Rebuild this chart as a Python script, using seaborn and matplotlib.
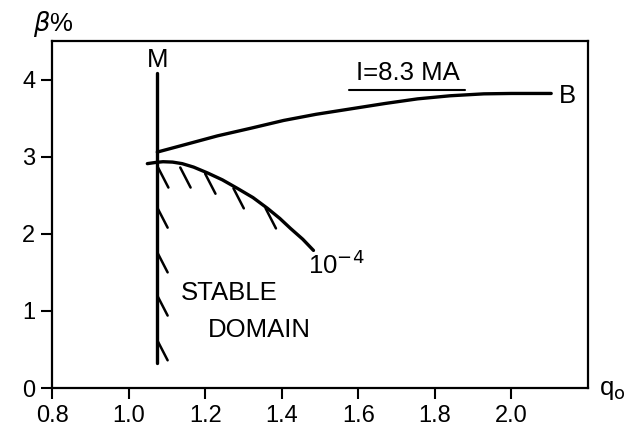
import numpy as np
import matplotlib
matplotlib.use("Agg")
import matplotlib.pyplot as plt
import seaborn as sns

# beta limit curve B (I = 8.3 MA)
q_B = [1.075, 1.15, 1.232, 1.32, 1.405, 1.49, 1.58, 1.67, 1.755, 1.84, 1.928, 2.0, 2.104]
beta_B = [3.06, 3.16, 3.27, 3.37, 3.47, 3.55, 3.62, 3.69, 3.75, 3.79, 3.815, 3.82, 3.82]

# 10^-4 curve
q_c = [1.049, 1.07, 1.09, 1.115, 1.14, 1.17, 1.206, 1.245, 1.284, 1.325, 1.363, 1.395, 1.423, 1.455, 1.483]
beta_c = [2.91, 2.925, 2.935, 2.93, 2.91, 2.865, 2.79, 2.70, 2.59, 2.47, 2.33, 2.20, 2.07, 1.93, 1.785]

# vertical line M
q_M = 1.075
beta_M = [0.32, 4.09]

# hatch starts
hatch_q_curve = [1.077, 1.135, 1.20, 1.274, 1.358]
hatch_b_curve = [2.86, 2.86, 2.78, 2.59, 2.33]
hatch_b_M = [2.34, 1.76, 1.20, 0.62]
hatch_dq, hatch_db = 0.027, -0.26

x_ticks = [0.8, 1.0, 1.2, 1.4, 1.6, 1.8, 2.0]
x_ticklabels = ["0.8", "1.0", "1.2", "1.4", "1.6", "1.8", "2.0"]
y_ticks = [0, 1, 2, 3, 4]

sns.set_style("ticks")
plt.rcParams['font.family'] = ['Liberation Sans', 'DejaVu Sans']
plt.rcParams['text.color'] = 'black'
plt.rcParams['xtick.color'] = 'black'
plt.rcParams['ytick.color'] = 'black'
plt.rcParams['xtick.labelcolor'] = 'black'
plt.rcParams['ytick.labelcolor'] = 'black'

fig = plt.figure(figsize=(6.32, 4.41), dpi=100)
ax = fig.add_axes([0.0823, 0.120, 0.848, 0.787])

lw = 2.4
sns.lineplot(x=q_B, y=beta_B, sort=False, color='black', lw=lw, ax=ax)
sns.lineplot(x=q_c, y=beta_c, sort=False, color='black', lw=lw, ax=ax)
ax.plot([q_M, q_M], beta_M, color='black', lw=lw, solid_capstyle='round')

for q, b in zip(hatch_q_curve, hatch_b_curve):
    ax.plot([q, q + hatch_dq], [b, b + hatch_db], color='black', lw=1.8)
for b in hatch_b_M:
    ax.plot([q_M, q_M + hatch_dq], [b, b + hatch_db], color='black', lw=1.8)

ax.set_xlim(0.8, 2.2)
ax.set_ylim(0, 4.5)
ax.set_xticks(x_ticks)
ax.set_xticklabels(x_ticklabels)
ax.set_yticks(y_ticks)
ax.tick_params(direction='out', length=8, width=1.5, labelsize=17, pad=4)
for s in ax.spines.values():
    s.set_linewidth(1.6)
    s.set_color('black')

fs = 18.5
ax.text(q_M, 4.25, "M", ha='center', va='center', fontsize=fs)
ax.text(1.73, 4.08, "I=8.3 MA", ha='center', va='center', fontsize=fs)
ax.plot([1.575, 1.88], [3.87, 3.87], color='black', lw=1.5)
ax.text(2.125, 3.79, "B", ha='left', va='center', fontsize=fs)
ax.text(1.47, 1.6, r"10$^{-4}$", ha='left', va='center', fontsize=fs)
ax.text(1.263, 1.23, "STABLE", ha='center', va='center', fontsize=fs)
ax.text(1.342, 0.75, "DOMAIN", ha='center', va='center', fontsize=fs)
ax.text(0.75, 4.72, r"$\beta$%", ha='left', va='center', fontsize=fs, clip_on=False)
ax.text(2.23, -0.02, r"q$_\mathrm{o}$", ha='left', va='center', fontsize=fs, clip_on=False)

fig.savefig("out.png", dpi=100)
